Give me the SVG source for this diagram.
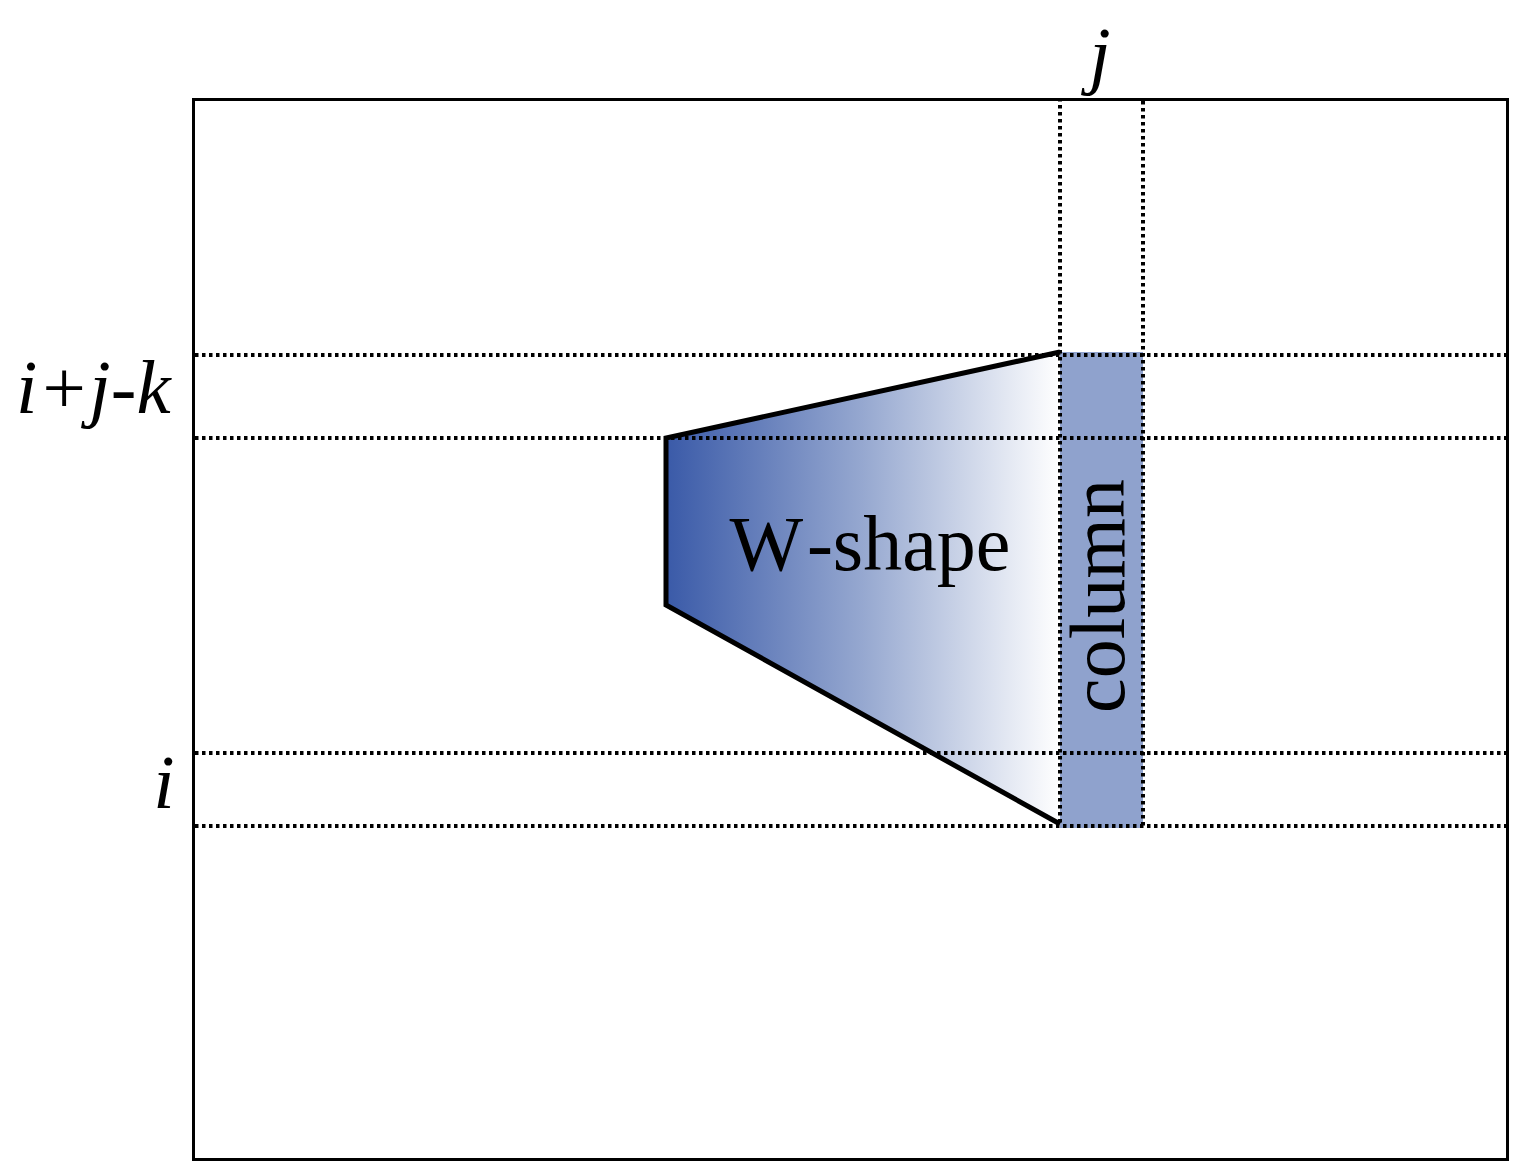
<svg xmlns="http://www.w3.org/2000/svg" width="1518" height="1175" viewBox="0 0 1518 1175">
<style>
.dot{stroke:#000;stroke-width:4;stroke-dasharray:3.5 3.5;fill:none}
.lbl{font-family:"Liberation Serif","DejaVu Serif",serif;fill:#000}
.it{font-style:italic;font-size:77px}
</style>
<defs>
<linearGradient id="g" x1="666" y1="0" x2="1060" y2="0" gradientUnits="userSpaceOnUse">
<stop offset="0" stop-color="#3a5aa8"/>
<stop offset="0.5" stop-color="#96a8d0"/>
<stop offset="1" stop-color="#ffffff"/>
</linearGradient>
</defs>
<rect x="0" y="0" width="1518" height="1175" fill="#fff"/>
<g id="frame"><rect x="193.5" y="99.5" width="1314" height="1060" fill="none" stroke="#000" stroke-width="3"/></g>
<g id="column"><rect x="1060" y="352" width="83" height="476" fill="#8fa2cd"/>
<text class="lbl" font-size="78" text-anchor="middle" transform="translate(1124,596) rotate(-90)">column</text></g>
<g id="wshape"><polygon points="666,438 1060,352 1060,824 666,605" fill="url(#g)"/>
<polyline points="1060,352 666,438 666,605 1060,824" fill="none" stroke="#000" stroke-width="5" stroke-linejoin="miter"/>
<text class="lbl" x="870" y="570" font-size="78" text-anchor="middle">W<tspan dx="8">-shape</tspan></text></g>
<g id="connectors">
<line class="dot" x1="195" y1="355" x2="1506" y2="355"/>
<line class="dot" x1="195" y1="438" x2="1506" y2="438"/>
<line class="dot" x1="195" y1="753" x2="1506" y2="753"/>
<line class="dot" x1="195" y1="826" x2="1506" y2="826"/>
<line class="dot" x1="1060" y1="98" x2="1060" y2="826"/>
<line class="dot" x1="1143" y1="101" x2="1143" y2="826"/>
</g>
<g id="labels">
<text class="lbl it" x="16" y="413">i+j-k</text>
<text class="lbl it" x="1100" y="80" text-anchor="middle">j</text>
<text class="lbl it" x="164" y="808" text-anchor="middle">i</text>
</g>
</svg>
